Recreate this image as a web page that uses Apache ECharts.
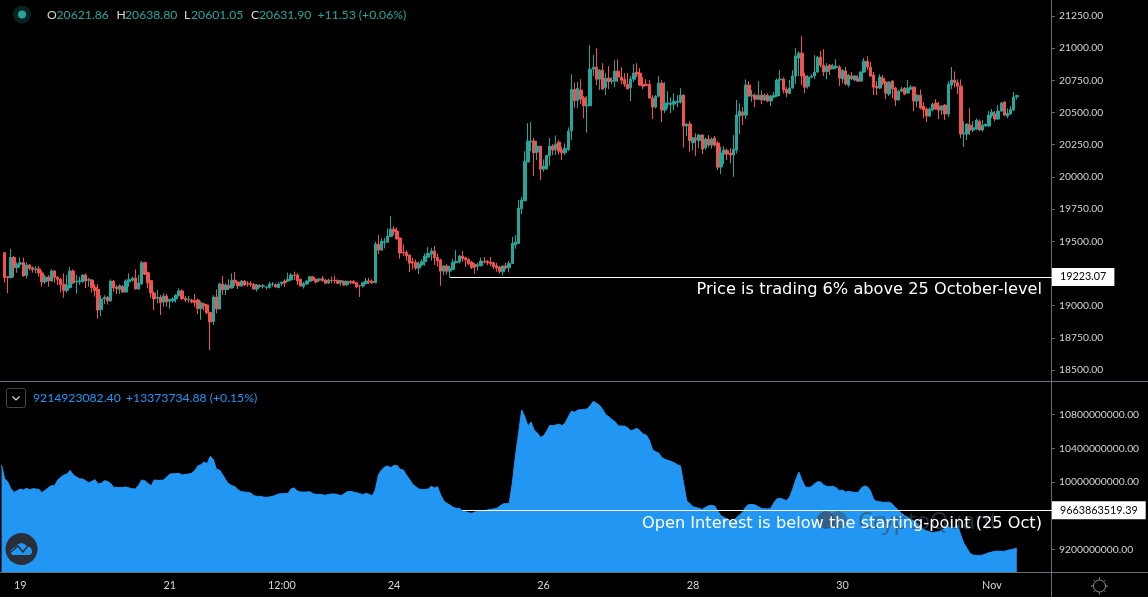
<!DOCTYPE html>
<html><head><meta charset="utf-8">
<style>html,body{margin:0;padding:0;background:#000}#c{width:1148px;height:597px}</style>
<script src="https://cdn.jsdelivr.net/npm/echarts@6/dist/echarts.min.js"></script>
</head><body><div id="c"></div>
<script>
// Hourly candles, Oct 18 19:00 onward
const opens=[19411,19225,19217,19373,19295,19321,19334,19235,19316,19295,
19282,19285,19254,19184,19222,19191,19269,19220,19207,19166,
19119,19140,19269,19184,19184,19186,19238,19197,19199,19142,
19127,18969,19052,19065,19036,19191,19145,19127,19147,19106,
19186,19197,19215,19129,19168,19334,19256,19194,19098,19057,
19065,19028,19075,19034,19036,19052,19080,19114,19057,19044,
19044,19039,19044,18977,19013,19005,18946,18876,19067,18974,
19168,19124,19155,19137,19197,19184,19153,19191,19171,19171,
19163,19129,19153,19150,19142,19140,19166,19163,19140,19173,
19191,19191,19199,19238,19238,19204,19150,19168,19189,19222,
19204,19197,19212,19199,19176,19197,19197,19194,19181,19189,
19163,19189,19189,19178,19155,19153,19171,19191,19189,
19178,19478,19431,19488,19493,19537,19594,19579,19525,19413,
19413,19393,19341,19333,19292,19318,19341,19377,19400,19424,
19374,19354,19268,19307,19268,19281,19333,19338,19385,19372,
19359,19336,19320,19310,19310,19343,19343,19338,19333,19310,
19300,19263,19307,19294,19328,19473,19483,19752,19814,20115,
20275,20278,20192,20239,20060,20065,20164,20239,20216,20270,
20208,20187,20213,
20358,20679,20594,20674,20614,20552,20552,20837,20852,20759,
20829,20695,20767,20744,20744,20821,20775,20757,20720,20692,
20759,20814,20806,20720,20720,20720,20612,20542,20627,20728,
20519,20565,20565,20565,20578,20581,
20635,20395,20410,20265,20301,20281,20325,20226,20294,20247,
20301,20263,20076,20177,20203,20185,20170,20208,20472,20503,
20480,20713,20628,20635,20602,20635,20597,20635,20589,20620,
20628,20752,20760,20679,20648,20690,20783,20923,20961,20783,
20705,20775,20783,20814,20930,20868,20819,20868,20840,20850,
20853,20760,20822,20713,20783,20752,20767,20744,20814,20899,
20853,20791,20705,20690,20767,20736,20643,20744,20690,20597,
20666,20690,20651,20682,20697,20589,20635,20550,20527,20472,
20519,20573,20550,20519,20558,20488,20713,20752,20731,20705,
20333,20333,20402,20364,20371,20433,20364,20395,20395,20475,
20488,20449,20511,20581,20472,20488,20519,20621.86];
const closes=[19217,19217,19373,19295,19321,19334,19230,19316,19290,19279,
19285,19254,19184,19222,19191,19269,19220,19204,19163,19116,
19155,19269,19176,19189,19194,19238,19191,19202,19140,19116,
18966,19052,19065,19036,19191,19137,19132,19153,19106,19191,
19202,19212,19129,19176,19334,19243,19176,19098,19052,19065,
19023,19075,19028,19049,19052,19080,19114,19054,19044,19049,
19028,19023,18977,19021,18997,18946,18873,19067,18974,19168,
19122,19160,19137,19197,19181,19153,19191,19160,19166,19163,
19129,19160,19150,19155,19145,19168,19168,19145,19168,19181,
19178,19204,19238,19235,19191,19153,19173,19191,19225,19199,
19184,19207,19194,19173,19199,19194,19194,19173,19194,19160,
19189,19178,19173,19145,19153,19178,19191,19189,19178,
19478,19431,19501,19496,19540,19594,19574,19519,19408,19408,
19385,19330,19330,19292,19323,19341,19385,19406,19424,19372,
19346,19268,19307,19268,19289,19336,19343,19385,19364,19356,
19325,19297,19302,19315,19346,19338,19333,19325,19302,19292,
19266,19307,19294,19328,19483,19493,19757,19820,20122,20278,
20278,20187,20239,20060,20084,20166,20239,20208,20254,20200,
20187,20221,20355,
20679,20591,20687,20604,20552,20557,20837,20852,20759,20829,
20682,20767,20741,20746,20821,20775,20751,20720,20682,20759,
20806,20798,20713,20705,20710,20612,20542,20627,20728,20519,
20573,20573,20573,20588,20588,20635,
20395,20410,20281,20304,20289,20325,20216,20294,20247,20294,
20247,20076,20185,20208,20177,20170,20216,20480,20511,20480,
20713,20628,20635,20604,20635,20597,20635,20589,20628,20633,
20752,20760,20674,20651,20690,20783,20938,20961,20783,20697,
20775,20783,20814,20930,20868,20814,20860,20837,20860,20860,
20767,20829,20721,20791,20762,20783,20744,20814,20899,20853,
20783,20697,20690,20775,20729,20651,20736,20682,20597,20666,
20682,20643,20690,20697,20589,20635,20534,20519,20472,20527,
20565,20527,20519,20550,20488,20721,20752,20731,20705,20333,
20340,20410,20364,20382,20441,20364,20402,20408,20480,20503,
20449,20511,20573,20480,20493,20524,20620,20631.90];
const lows=[19178,19096,19212,19220,19256,19295,19225,19210,19272,19256,
19251,19225,19147,19168,19147,19186,19178,19160,19101,19062,
19101,19134,19168,19093,19160,19178,19137,19147,19101,19070,
18899,18920,19013,19008,19031,19109,19090,19090,19101,19101,
19147,19186,19127,19122,19160,19238,19134,19062,18966,19018,
18927,18992,18992,18977,19023,19023,19070,19044,19026,19023,
19018,18987,18935,18889,18961,18933,18656,18850,18940,18971,
19083,19083,19122,19132,19153,19129,19147,19153,19147,19147,
19127,19109,19140,19132,19124,19134,19147,19140,19134,19153,
19147,19186,19194,19199,19160,19147,19132,19160,19184,19191,
19173,19184,19184,19166,19168,19173,19173,19168,19153,19155,
19153,19166,19168,19134,19067,19140,19168,19168,19168,
19173,19400,19431,19444,19488,19532,19548,19509,19364,19385,
19349,19261,19281,19276,19245,19307,19310,19369,19349,19315,
19302,19154,19237,19242,19217,19276,19328,19328,19341,19302,
19315,19284,19248,19271,19305,19328,19315,19307,19284,19263,
19250,19232,19281,19258,19323,19442,19478,19711,19812,20115,
20200,20006,20130,19975,20040,20053,20086,20169,20169,20174,
20130,20169,20200,
20286,20539,20534,20565,20456,20343,20552,20782,20713,20674,
20674,20635,20682,20720,20697,20736,20720,20697,20682,20588,
20736,20775,20705,20682,20705,20609,20449,20531,20617,20425,
20495,20531,20495,20519,20542,20570,
20229,20317,20195,20203,20164,20224,20177,20208,20229,20219,
20234,20053,20022,20100,20131,20107,20001,20182,20333,20402,
20449,20622,20584,20542,20597,20565,20589,20581,20550,20612,
20622,20628,20648,20620,20643,20685,20721,20783,20713,20651,
20685,20765,20760,20809,20850,20783,20760,20791,20835,20835,
20705,20726,20710,20697,20752,20747,20736,20741,20809,20829,
20778,20635,20635,20682,20713,20604,20628,20612,20550,20591,
20659,20635,20648,20674,20511,20540,20524,20454,20426,20467,
20509,20519,20449,20480,20441,20465,20682,20695,20643,20301,
20232,20286,20325,20348,20364,20356,20351,20390,20390,20457,
20433,20446,20506,20472,20457,20480,20514,20601.05];
const highs=[19417,19225,19440,19385,19336,19375,19373,19334,19323,19303,
19308,19308,19272,19238,19238,19285,19277,19230,19212,19251,
19238,19300,19282,19238,19225,19243,19251,19217,19204,19166,
19166,19080,19080,19075,19204,19199,19158,19166,19160,19204,
19251,19225,19282,19238,19347,19341,19264,19199,19109,19122,
19083,19096,19090,19054,19065,19090,19134,19127,19075,19075,
19054,19090,19054,19034,19023,19013,18953,19080,19127,19178,
19230,19173,19204,19251,19261,19186,19199,19197,19191,19191,
19178,19168,19168,19168,19153,19186,19184,19173,19181,19189,
19204,19256,19251,19264,19251,19210,19184,19199,19230,19230,
19210,19212,19230,19204,19210,19225,19230,19204,19199,19194,
19194,19197,19199,19184,19160,19184,19215,19215,19204,
19496,19548,19525,19525,19600,19695,19618,19607,19530,19475,
19431,19398,19369,19359,19343,19359,19406,19455,19447,19462,
19406,19364,19315,19323,19310,19362,19431,19393,19424,19380,
19367,19349,19328,19333,19374,19377,19354,19377,19341,19333,
19307,19312,19333,19346,19535,19548,19820,19843,20200,20417,
20425,20301,20280,20241,20135,20169,20301,20254,20322,20285,
20234,20260,20384,
20798,20733,20738,20759,20627,20627,21023,20946,21000,20839,
20883,20808,20860,20772,20907,20914,20852,20806,20806,20782,
20876,20883,20845,20775,20759,20751,20635,20635,20782,20751,
20736,20666,20619,20650,20635,20689,
20643,20418,20433,20312,20338,20333,20330,20304,20325,20307,
20317,20278,20234,20239,20221,20224,20325,20597,20571,20542,
20757,20744,20674,20648,20744,20672,20648,20648,20635,20659,
20765,20829,20773,20700,20752,20829,21000,20974,21093,20809,
20791,20796,20946,20938,20977,20992,20884,20876,20876,20915,
20868,20835,20853,20796,20814,20791,20791,20822,20923,20938,
20892,20814,20744,20798,20791,20744,20744,20752,20700,20674,
20700,20697,20752,20713,20705,20643,20679,20581,20540,20540,
20576,20604,20581,20558,20565,20744,20853,20819,20757,20757,
20433,20418,20534,20433,20454,20446,20441,20415,20511,20527,
20511,20558,20584,20589,20532,20550,20659,20638.80];
// Open interest in millions; first point is the hour before the first candle
const openInterest=[10202,10040,10000,9921,9877,9897,9917,9905,9925,9909,9921,
9917,9913,9874,9901,9933,9957,9957,10020,10056,10083,
10095,10139,10087,10060,10040,10036,10016,9992,10008,10028,
9976,9984,10016,10008,9984,9937,9937,9933,9937,9941,
9929,9921,9917,9961,10024,10016,9984,9953,10024,10020,
10020,10024,10056,10095,10099,10099,10103,10083,10091,10095,
10103,10135,10190,10206,10238,10218,10305,10269,10151,10143,
10087,10024,9976,9957,9945,9905,9885,9881,9877,9870,
9838,9830,9830,9822,9818,9822,9830,9842,9858,9862,
9862,9866,9921,9929,9893,9881,9881,9881,9885,9862,
9854,9854,9850,9842,9854,9858,9858,9850,9838,9862,
9885,9889,9881,9874,9862,9850,9866,9854,9834,9905,
10083,10143,10178,10190,10170,10198,10198,10151,10143,10083,
10032,9972,9945,9917,9909,9913,9917,9949,9929,9945,
9846,9775,9747,9727,9699,9688,9688,9660,9648,9636,
9628,9644,9652,9656,9660,9668,9676,9680,9688,9715,
9739,9743,9746,9984,10308,10577,10854,10775,10664,10712,
10617,10585,10530,10546,10601,10672,10668,10676,10688,10668,
10704,10775,10842,10827,10854,10858,10862,10866,10906,10957,
10937,10910,10862,10799,10775,10743,10716,10668,10664,10664,
10645,10609,10621,10637,10609,10569,10558,10498,10387,10360,
10344,10292,10269,10257,10245,10229,10205,10193,9984,9778,
9746,9707,9699,9687,9675,9699,9719,9723,9715,9655,
9600,9580,9564,9541,9529,9580,9608,9647,9707,9734,
9734,9727,9707,9687,9683,9679,9687,9755,9802,9806,
9794,9778,9818,9913,10024,10119,10024,9944,9933,9944,
9976,10004,10000,9964,9948,9944,9948,9933,9897,9905,
9881,9889,9881,9877,9873,9925,9952,9944,9897,9794,
9770,9766,9758,9758,9762,9739,9699,9660,9628,9600,
9580,9557,9537,9509,9470,9438,9422,9410,9398,9406,
9410,9430,9458,9470,9454,9462,9485,9371,9272,9212,
9153,9133,9129,9129,9133,9145,9161,9169,9177,9181,
9177,9177,9189,9197,9204,9214.923];

const priceTicks=[18500,18750,19000,19250,19500,19750,20000,20250,20500,20750,21000,21250];
const oiTicks=[9200,9600,10000,10400,10800];
const timeTickIndex=[6,54,90,126,174,222,270,318];
const timeTickLabels=['19','21','12:00','24','26','28','30','Nov'];
const priceLevel=19223.07, oiLevel=9663.86351939;
const headerValues=['20621.86','20638.80','20601.05','20631.90','+11.53 (+0.06%)'];
const oiHeader=['9214923082.40','+13373734.88 (+0.15%)'];
const priceNote='Price is trading 6% above 25 October-level';
const oiNote='Open Interest is below the starting-point (25 Oct)';

const hourCount=337;
const categories=Array.from({length:hourCount},(_,i)=>String(i));
const candleData=['-'].concat(opens.map((o,i)=>[o,closes[i],lows[i],highs[i]]));

const UP='#26a69a',DOWN='#ef5350',BLUE='#2196f3',GRID='#6a6d78',TXT='#d6d6d6';
const FONT='Lato, "Noto Sans", sans-serif';
const labelBase={color:TXT,fontFamily:FONT,fontSize:10.3,margin:8,align:'left'};
const xLabelFn=i=>timeTickIndex.includes(i);
const t=(x,y,s,fill,extra)=>({type:'text',x,y,z:60,silent:true,style:Object.assign({text:s,fill,fontFamily:FONT,fontSize:12.2,textVerticalAlign:'middle'},extra||{})});

const gears=[];
for(let a=0;a<8;a++){const c=Math.cos(a*Math.PI/4),s=Math.sin(a*Math.PI/4);
 gears.push({type:'line',silent:true,z:60,shape:{x1:1099.5+c*6.5,y1:586+s*6.5,x2:1099.5+c*8.5,y2:586+s*8.5},style:{stroke:'#8a8d96',lineWidth:1}});}

const chart=echarts.init(document.getElementById('c'),null,{renderer:'canvas'});
chart.setOption({
 animation:false,backgroundColor:'#000',
 grid:[{left:-3.6,width:1053.125,top:0,height:381},{left:-3.6,width:1053.125,top:382,height:190}],
 xAxis:[
  {type:'category',gridIndex:0,data:categories,show:false},
  {type:'category',gridIndex:1,data:categories,
   axisLine:{lineStyle:{color:GRID}},
   axisTick:{alignWithLabel:true,interval:xLabelFn,length:3,lineStyle:{color:GRID}},
   axisLabel:{interval:xLabelFn,color:TXT,fontFamily:FONT,fontSize:10.8,margin:8,hideOverlap:false,
     formatter:(v,i)=>timeTickLabels[timeTickIndex.indexOf(i)]||''},
   splitLine:{show:false}}
 ],
 yAxis:[
  {type:'value',gridIndex:0,position:'right',offset:1.5,min:18414.5,max:21374,
   axisLine:{show:false},splitLine:{show:false},
   axisTick:{show:true,length:4,lineStyle:{color:GRID},customValues:priceTicks},
   axisLabel:Object.assign({},labelBase,{customValues:priceTicks,formatter:v=>v.toFixed(2)})},
  {type:'value',gridIndex:1,position:'right',offset:1.5,min:8932,max:11187,
   axisLine:{show:false},splitLine:{show:false},
   axisTick:{show:true,length:4,lineStyle:{color:GRID},customValues:oiTicks},
   axisLabel:Object.assign({},labelBase,{customValues:oiTicks,formatter:v=>(v*1e6).toFixed(2)})}
 ],
 series:[
  {type:'candlestick',xAxisIndex:0,yAxisIndex:0,barWidth:3,data:candleData,
   itemStyle:{color:UP,color0:DOWN,borderColor:UP,borderColor0:DOWN,borderWidth:1},
   markLine:{silent:true,symbol:'none',z:50,animation:false,
    lineStyle:{color:'#fff',width:1,type:'solid'},
    label:{position:'end',distance:0,color:'#000',backgroundColor:'#fff',padding:[4,8,3,8],fontFamily:FONT,fontSize:10.8,
      formatter:()=>priceLevel.toFixed(2)},
    data:[[{coord:['144',priceLevel]},{coord:[String(hourCount-1),priceLevel],x:1052}]]}},
  {type:'line',xAxisIndex:1,yAxisIndex:1,data:openInterest,symbol:'none',showSymbol:false,
   lineStyle:{color:BLUE,width:1},areaStyle:{color:BLUE,opacity:1,origin:'start'},
   markLine:{silent:true,symbol:'none',z:50,animation:false,
    lineStyle:{color:'#fff',width:1,type:'solid'},
    label:{position:'end',distance:0,color:'#000',backgroundColor:'#fff',padding:[4,8,3,8],fontFamily:FONT,fontSize:10.8,
      formatter:()=>(oiLevel*1e6).toFixed(2)},
    data:[[{coord:['148',oiLevel]},{coord:[String(hourCount-1),oiLevel],x:1052}]]}}
 ],
 graphic:[
  // panel frame
  {type:'line',silent:true,z:40,shape:{x1:0,y1:381.5,x2:1148,y2:381.5},style:{stroke:GRID,lineWidth:1}},
  {type:'line',silent:true,z:40,shape:{x1:0,y1:572.5,x2:1148,y2:572.5},style:{stroke:GRID,lineWidth:1}},
  {type:'line',silent:true,z:40,shape:{x1:1051.5,y1:0,x2:1051.5,y2:597},style:{stroke:GRID,lineWidth:1}},
  // header dot
  {type:'circle',silent:true,z:60,shape:{cx:22,cy:14.5,r:9},style:{fill:'rgba(38,166,154,0.22)'}},
  {type:'circle',silent:true,z:61,shape:{cx:22,cy:14.5,r:4},style:{fill:UP}},
  t(47,15,'O',TXT),t(56.5,15,headerValues[0],UP),
  t(116.5,15,'H',TXT),t(125,15,headerValues[1],UP),
  t(184,15,'L',TXT),t(191,15,headerValues[2],UP),
  t(251,15,'C',TXT),t(259,15,headerValues[3],UP),
  t(317.5,15,headerValues[4],UP),
  // OI header
  {type:'rect',silent:true,z:60,shape:{x:6.5,y:388.5,width:19,height:19,r:2},style:{fill:'#000',stroke:'#444',lineWidth:1}},
  {type:'polyline',silent:true,z:61,shape:{points:[[12.5,396.5],[16,400],[19.5,396.5]]},style:{fill:'none',stroke:'#e0e0e0',lineWidth:1.2}},
  t(33,398.5,oiHeader[0],BLUE),t(126,398.5,oiHeader[1],BLUE),
  // watermark
  {type:'circle',silent:true,z:45,shape:{cx:826,cy:520,r:9},style:{fill:'rgba(60,72,90,0.7)'}},
  {type:'circle',silent:true,z:45,shape:{cx:838,cy:520,r:9},style:{fill:'rgba(60,72,90,0.5)'}},
  {type:'text',silent:true,z:45,x:858,y:522,style:{text:'CryptoQuant',fill:'rgba(60,72,90,0.62)',fontFamily:'"Noto Sans",sans-serif',fontSize:23,textVerticalAlign:'middle'}},
  // annotations
  {type:'text',silent:true,z:70,x:1042,y:289.5,style:{text:priceNote,fill:'#fff',fontFamily:'"DejaVu Sans",sans-serif',fontSize:16.2,textAlign:'right',textVerticalAlign:'middle'}},
  {type:'text',silent:true,z:70,x:1042,y:523.5,style:{text:oiNote,fill:'#fff',fontFamily:'"DejaVu Sans",sans-serif',fontSize:16.2,textAlign:'right',textVerticalAlign:'middle'}},
  // logo
  {type:'circle',silent:true,z:60,shape:{cx:21.5,cy:549,r:16},style:{fill:'#2a2e39'}},
  {type:'polygon',silent:true,z:61,shape:{points:[[12,555],[10.5,551],[13,548],[16,547],[18,544],[22,543],[26,545],[27,547],[30,547],[32,550],[32,553],[30,555]]},style:{fill:BLUE}},
  {type:'polyline',silent:true,z:62,shape:{points:[[11,552],[18,546],[23,552],[27,547]]},style:{fill:'none',stroke:'#2a2e39',lineWidth:1.5}},
  // settings gear
  {type:'circle',silent:true,z:60,shape:{cx:1099.5,cy:586,r:6},style:{fill:'none',stroke:'#8a8d96',lineWidth:1}},
  ...gears
 ]
});
</script></body></html>
